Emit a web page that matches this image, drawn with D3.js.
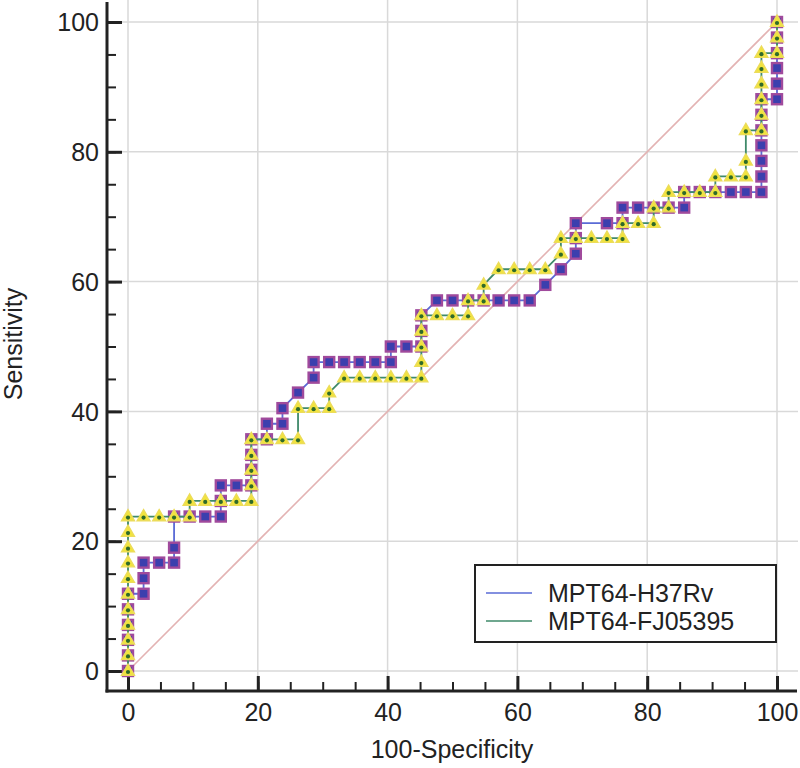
<!DOCTYPE html>
<html>
<head>
<meta charset="utf-8">
<script src="https://cdn.jsdelivr.net/npm/d3@7/dist/d3.min.js"></script>
<style>
  html, body { margin: 0; padding: 0; background: #fff; }
  svg { display: block; font-family: "Liberation Sans", Arial, sans-serif; }
</style>
</head>
<body>
<svg id="chart" width="800" height="768"></svg>
<script>
// ---- data (percent values) ----
const xTicks = [0, 20, 40, 60, 80, 100];
const yTicks = [0, 20, 40, 60, 80, 100];
const seriesNames = ["MPT64-H37Rv", "MPT64-FJ05395"];

// MPT64-H37Rv : [100-Specificity, Sensitivity]
const h37rvPoints = [
  [0,0],[0,2.4],[0,4.8],[0,7.1],[0,9.5],[0,11.9],[2.4,11.9],[2.4,14.3],[2.4,16.7],
  [4.8,16.7],[7.1,16.7],[7.1,19.0],[7.1,23.8],[9.5,23.8],[11.9,23.8],[14.3,23.8],
  [14.3,26.2],[14.3,28.6],[16.7,28.6],[19.0,28.6],[19.0,31.0],[19.0,33.3],[19.0,35.7],
  [21.4,35.7],[21.4,38.1],[23.8,38.1],[23.8,40.5],[26.2,42.9],[28.6,45.2],[28.6,47.6],
  [31.0,47.6],[33.3,47.6],[35.7,47.6],[38.1,47.6],[40.5,47.6],[40.5,50.0],[42.9,50.0],
  [45.2,50.0],[45.2,52.4],[45.2,54.8],[47.6,57.1],[50.0,57.1],[52.4,57.1],[54.8,57.1],
  [57.1,57.1],[59.5,57.1],[61.9,57.1],[64.3,59.5],[66.7,61.9],[69.0,64.3],[69.0,66.7],
  [69.0,69.0],[73.8,69.0],[76.2,69.0],[76.2,71.4],[78.6,71.4],[81.0,71.4],[83.3,71.4],
  [85.7,71.4],[85.7,73.8],[88.1,73.8],[90.5,73.8],[92.9,73.8],[95.2,73.8],[97.6,73.8],
  [97.6,76.2],[97.6,78.6],[97.6,81.0],[97.6,83.3],[97.6,85.7],[97.6,88.1],[100,88.1],
  [100,90.5],[100,92.9],[100,95.2],[100,97.6],[100,100]
];

// MPT64-FJ05395 : [100-Specificity, Sensitivity]
const fj05395Points = [
  [0,0],[0,2.4],[0,4.8],[0,7.1],[0,9.5],[0,11.9],[0,14.3],[0,16.7],[0,19.0],[0,21.4],
  [0,23.8],[2.4,23.8],[4.8,23.8],[7.1,23.8],[9.5,23.8],[9.5,26.2],[11.9,26.2],[14.3,26.2],
  [16.7,26.2],[19.0,26.2],[19.0,28.6],[19.0,31.0],[19.0,33.3],[19.0,35.7],[21.4,35.7],
  [23.8,35.7],[26.2,35.7],[26.2,40.5],[28.6,40.5],[31.0,40.5],[31.0,42.9],[33.3,45.2],
  [35.7,45.2],[38.1,45.2],[40.5,45.2],[42.9,45.2],[45.2,45.2],[45.2,47.6],[45.2,50.0],
  [45.2,52.4],[45.2,54.8],[47.6,54.8],[50.0,54.8],[52.4,54.8],[52.4,57.1],[54.8,57.1],
  [54.8,59.5],[57.1,61.9],[59.5,61.9],[61.9,61.9],[64.3,61.9],[66.7,64.3],[66.7,66.7],
  [69.0,66.7],[71.4,66.7],[73.8,66.7],[76.2,66.7],[76.2,69.0],[78.6,69.0],[81.0,69.0],
  [81.0,71.4],[83.3,71.4],[83.3,73.8],[85.7,73.8],[88.1,73.8],[90.5,73.8],[90.5,76.2],
  [92.9,76.2],[95.2,76.2],[95.2,78.6],[95.2,83.3],[97.6,83.3],[97.6,85.7],[97.6,88.1],
  [97.6,90.5],[97.6,92.9],[97.6,95.2],[100,95.2],[100,97.6],[100,100]
];

const referenceLine = [[0,0],[100,100]];

// ---- drawing ----
const svg = d3.select("#chart");
const x = d3.scaleLinear().domain([0, 100]).range([128, 777]);
const y = d3.scaleLinear().domain([0, 100]).range([671, 22]);

const axisX = 107, axisY = 691;

// grid
const grid = svg.append("g");
grid.selectAll("line.v").data(xTicks).join("line")
  .attr("x1", d => x(d)).attr("x2", d => x(d))
  .attr("y1", 0).attr("y2", axisY)
  .attr("stroke", "#d9d9d9").attr("stroke-width", 1.5);
grid.selectAll("line.h").data(yTicks).join("line")
  .attr("x1", axisX).attr("x2", 798)
  .attr("y1", d => y(d)).attr("y2", d => y(d))
  .attr("stroke", "#d9d9d9").attr("stroke-width", 1.5);

// axes
const fontSize = 25;
const yMinor = svg.append("g").attr("transform", `translate(${axisX},0)`)
  .call(d3.axisLeft(y).tickValues(d3.range(0, 101, 5)).tickSize(-9).tickFormat(""));
const yMajor = svg.append("g").attr("transform", `translate(${axisX},0)`)
  .call(d3.axisLeft(y).tickValues(yTicks).tickSize(-15).tickPadding(8));
const xMinor = svg.append("g").attr("transform", `translate(0,${axisY})`)
  .call(d3.axisBottom(x).tickValues(d3.range(0, 101, 5)).tickSize(-9).tickFormat(""));
const xMajor = svg.append("g").attr("transform", `translate(0,${axisY})`)
  .call(d3.axisBottom(x).tickValues(xTicks).tickSize(-15).tickPadding(9));

[yMinor, yMajor, xMinor, xMajor].forEach(g => g.select(".domain").remove());
[yMinor, xMinor].forEach(g => g.selectAll(".tick line").attr("stroke", "#222").attr("stroke-width", 2));
[yMajor, xMajor].forEach(g => {
  g.selectAll(".tick line").attr("stroke", "#222").attr("stroke-width", 3);
  g.selectAll(".tick text").attr("font-size", fontSize).attr("fill", "#222")
    .attr("font-family", "Liberation Sans, Arial, sans-serif");
});
yMajor.selectAll(".tick text").attr("x", -8).attr("dy", "0.35em");
xMajor.selectAll(".tick text").attr("y", 12).attr("dy", "0.71em");

svg.append("line").attr("x1", axisX).attr("x2", axisX).attr("y1", 2).attr("y2", axisY + 1.5)
  .attr("stroke", "#222").attr("stroke-width", 3);
svg.append("line").attr("x1", axisX - 1.5).attr("x2", 797).attr("y1", axisY).attr("y2", axisY)
  .attr("stroke", "#222").attr("stroke-width", 3);

// axis titles
svg.append("text").attr("x", 452).attr("y", 758).attr("text-anchor", "middle")
  .attr("font-size", fontSize).attr("fill", "#222").text("100-Specificity");
svg.append("text").attr("transform", "translate(22,344) rotate(-90)").attr("text-anchor", "middle")
  .attr("font-size", fontSize).attr("fill", "#222").text("Sensitivity");

// reference diagonal
const line = d3.line().x(d => x(d[0])).y(d => y(d[1]));
svg.append("path").datum(referenceLine).attr("d", line)
  .attr("fill", "none").attr("stroke", "#e3b3b3").attr("stroke-width", 1.6);

// H37Rv series
svg.append("path").datum(h37rvPoints).attr("d", line)
  .attr("fill", "none").attr("stroke", "#5a6bd6").attr("stroke-width", 1.8);
svg.append("g").selectAll("rect").data(h37rvPoints).join("rect")
  .attr("x", d => x(d[0]) - 5).attr("y", d => y(d[1]) - 5)
  .attr("width", 10).attr("height", 10)
  .attr("fill", "#3b3fae").attr("stroke", "#a04a9c").attr("stroke-width", 2.4);

// FJ05395 series
svg.append("path").datum(fj05395Points).attr("d", line)
  .attr("fill", "none").attr("stroke", "#3f8a6a").attr("stroke-width", 1.8);
const tri = d3.symbol().type(d3.symbolTriangle).size(72);
const gTri = svg.append("g");
gTri.selectAll("path").data(fj05395Points).join("path")
  .attr("transform", d => `translate(${x(d[0])},${y(d[1]) + 0.5})`)
  .attr("d", tri).attr("fill", "#f2e43c").attr("stroke", "#ecdc5a").attr("stroke-width", 1.4);
gTri.selectAll("circle").data(fj05395Points).join("circle")
  .attr("cx", d => x(d[0])).attr("cy", d => y(d[1]) + 1)
  .attr("r", 2.1).attr("fill", "#2f6a2a");

// legend
const lg = svg.append("g");
lg.append("rect").attr("x", 475).attr("y", 565).attr("width", 301).attr("height", 77)
  .attr("fill", "#fff").attr("stroke", "#222").attr("stroke-width", 2);
const legendColors = ["#5a6bd6", "#3f8a6a"];
seriesNames.forEach((name, i) => {
  const cy = 593 + i * 28;
  lg.append("line").attr("x1", 486).attr("x2", 532).attr("y1", cy).attr("y2", cy)
    .attr("stroke", legendColors[i]).attr("stroke-width", 1.5);
  lg.append("text").attr("x", 548).attr("y", cy).attr("dy", "0.35em")
    .attr("font-size", fontSize).attr("fill", "#222").text(name);
});
</script>
</body>
</html>
